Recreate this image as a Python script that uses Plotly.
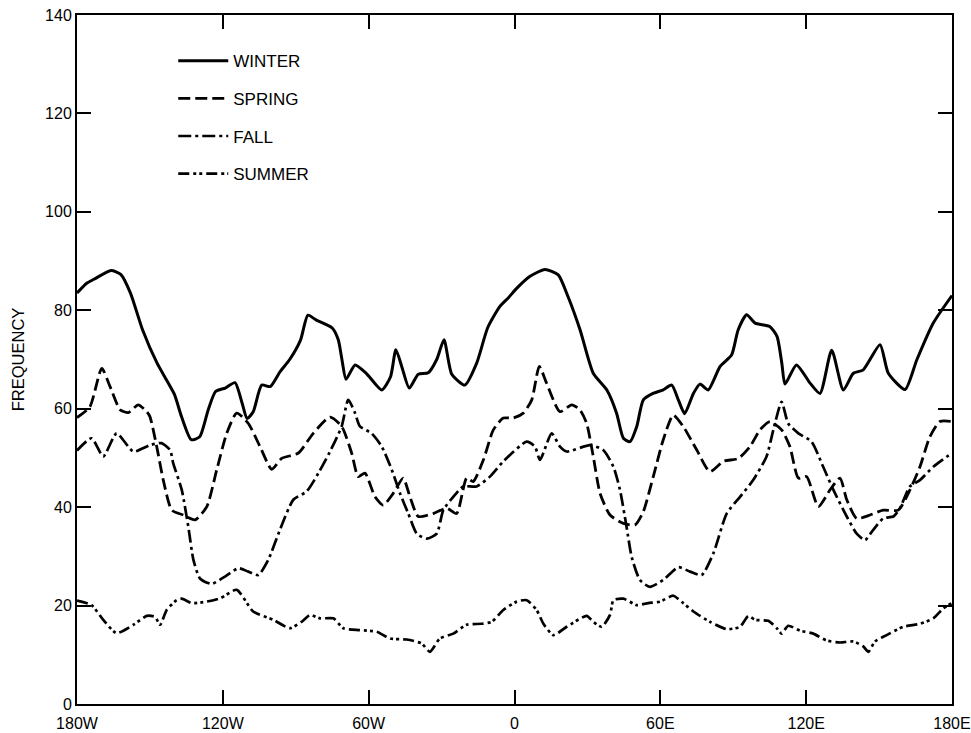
import plotly.graph_objects as go

# Longitude (degrees, west negative) and frequency for each season
winter_lon = [-180, -176, -173, -166, -162, -158, -153, -147, -140, -137, -133, -129.5, -126, -123,
              -119, -115, -112, -110, -107.5, -104, -100.5, -96.5, -92.5, -88, -85, -81.5, -75,
              -72.5, -71, -69.3, -65.6, -61, -54.6, -51, -48.8, -46.4, -43.3, -39.6, -35.5, -32,
              -29, -25.8, -20.4, -15.6, -11, -6, -2.6, 1, 6.4, 12.5, 18, 22, 27, 32.4, 38, 42,
              44.8, 47.5, 50.3, 53, 57, 61, 64.7, 67.4, 70, 73.6, 76.3, 79.7, 84.6, 89.3, 92, 95.5,
              99, 105, 108, 110, 111.3, 116, 121.6, 125.7, 130.5, 135.3, 139.4, 143.5, 150.4,
              153.8, 160.7, 165.5, 172.3, 180]
winter_freq = [83.5, 85.5, 86.3, 88.1, 87.3, 83.5, 76, 69.2, 63, 58.4, 53.7, 54.3, 59.8, 63.5,
               64.2, 65.3, 61, 58, 59.4, 64.8, 64.5, 67.5, 70, 74, 79, 78, 76.4,
               74, 70, 66, 68.9, 67.2, 63.8, 66.5, 72, 68.6, 64.2, 67, 67.3, 70,
               74, 67, 64.8, 69.2, 76.5, 80.8, 82.5, 84.5, 86.9, 88.3, 87.2, 82.8, 76, 67.2, 63.8, 59.1,
               54, 53.3, 56.4, 61.8, 63.1, 63.8, 64.8, 61.8, 59, 63.1, 65, 63.8, 68.6, 70.9, 76, 79.1,
               77.4, 76.7, 74.7, 69.2, 65, 68.9, 65.2, 63.1, 71.9, 63.8, 67.2, 67.9, 73,
               67.2, 63.9, 69.9, 77.4, 83]

spring_lon = [-180, -174.7, -169.8, -166.4, -162.3, -158.9, -154.8, -151.3, -150, -147.2, -144.5,
              -141, -136.3, -131.5, -126.6, -122.5, -118.4, -114.3, -109.5, -104.7, -99.9, -95.8,
              -88.9, -82.8, -75.9, -71.1, -67, -64.3, -61.5, -57.4, -54, -49.9, -45.8, -43, -39.6,
              -33.4, -27.9, -23.8, -19.7, -17, -12.8, -8.7, -4.6, -0.5, 3.6, 7.1, 10.2, 13.2, 18.7,
              23.5, 26.9, 29.7, 32.4, 35.2, 39.3, 44.8, 49.6, 53, 57.1, 61.2, 65.3, 69.4, 75, 80.4,
              85.9, 92.1, 96.9, 101, 105.1, 109.9, 113.3, 116.8, 120.2, 125, 129.8, 133.9, 136.7,
              140.8, 146.3, 151.7, 157.9, 162.7, 166.8, 170.9, 175, 180]
spring_freq = [58.2, 60.4, 68.2, 64.5, 59.8, 59.2, 60.8, 59.4, 58.4, 52.3, 45.5,
               39.4, 38.4, 37.4, 40.1, 47.6, 55, 59.1, 57, 52.3, 47.7, 49.9,
               51, 55, 58.3, 56.4, 51, 46.2, 46.9, 42.1, 40.4, 42.8, 45.9, 42.1, 38.1,
               38.7, 39.8, 38.7, 45.9, 45.2, 49.6, 55.7, 58.1, 58.1, 59.1, 61.8, 68.6, 65.2, 59.4,
               60.8, 59.8, 57, 50.3, 42.8, 38.4, 36.7, 36.4, 39.1, 46.2, 53.7, 58.7, 56.4, 51.6, 47.2,
               49.3, 49.9, 52.3, 55.7, 57.4, 55.7, 52.3, 45.9, 46.2, 40.1, 43.5, 45.9, 41.5,
               37.7, 38.4, 39.4, 39.4, 43.5, 48.2, 54.3, 57.4, 57.4]

fall_lon = [-180, -174, -169.2, -163.7, -156.8, -150, -145.2, -141.7, -140.4, -136.9, -134.2,
            -132.1, -129.4, -124.6, -119.1, -113.6, -109.5, -105.4, -101.3, -96.5, -91, -85.5,
            -80.7, -75.9, -71.1, -68.4, -65.6, -63.6, -58.8, -54.6, -50.5, -47.1, -43.7, -40.2,
            -36.1, -32, -29.3, -25.2, -21.1, -15.6, -10.1, -4.6, 5, 8.4, 10.5, 15.3, 18.7, 21.5,
            31.1, 36.5, 40.7, 43.4, 46.1, 48.2, 51.6, 55.7, 61.2, 67.4, 72.2, 77, 81.8, 87.3,
            92.8, 98.2, 103.7, 106.5, 109.9, 112.6, 116.8, 122.2, 127, 131.2, 136.7, 140.8,
            144.2, 147.6, 151.7, 155.9, 158.6, 162.7, 166.8, 172.3, 180]
fall_freq = [51.5, 54, 50.3, 55, 51.3, 52.6, 53, 51.6, 48.9, 43.5, 36,
             29.3, 25.5, 24.4, 25.9, 27.6, 26.9, 26.2, 29.3, 35.4, 41.5, 43.2,
             46.9, 51.3, 56.4, 61.8, 59.1, 56.4, 55, 52.3, 47.6, 42.8, 38.7, 34.6,
             33.6, 34.6, 39.4, 42.1, 44.2, 44.2, 46.2, 49.3, 53.3, 52.3, 49.6, 55, 52.3, 51.3,
             52.6, 51.6, 48.2, 43.5, 36, 29.9, 25.2, 23.8, 25.2, 27.8, 26.9, 26.2, 30.6, 38.7,
             42.1, 45.5, 50.3, 55.7, 61.4, 57, 55, 53.3, 48.2, 43.5, 38.1, 34.6,
             33.3, 35.4, 37.7, 38.1, 39.8, 44.2, 45.5, 48.2, 51]

summer_lon = [-180, -174, -169.2, -163.7, -156.8, -151.3, -147.9, -145.8, -143.1, -139, -136.9,
              -132.8, -126.7, -121, -114.3, -107.5, -99.2, -92.4, -87.6, -84.1, -80, -74.5, -70.4,
              -63.6, -56.7, -51.2, -44.4, -38.2, -34.8, -30.7, -25.2, -19.7, -13.5, -9.4, -4.6,
              0.9, 5, 9.1, 11.9, 16, 21.5, 29.7, 32.4, 35.9, 39.3, 40.7, 44.8, 50.3, 55, 59.9,
              65.3, 69.4, 73.6, 80.4, 87.3, 92.8, 96.2, 99, 104.4, 107.9, 109.9, 112.6, 117.5,
              122.9, 128.4, 133.9, 139.4, 143.5, 145.6, 148.3, 153.1, 160, 166.8, 172.3, 176.4, 180]
summer_freq = [21, 20.1, 17.1, 14.4, 16.1, 17.9, 17.7, 16.1, 19.1, 21.1, 21.4,
               20.5, 20.8, 21.5, 23.2, 18.8, 17.1, 15.4, 16.7, 18.1, 17.4, 17.4, 15.4,
               15, 14.7, 13.3, 13.1, 12.3, 10.6, 13.3, 14.3, 16.1, 16.3, 16.7, 19.1,
               20.8, 21.1, 19.1, 16.3, 14, 15.7, 17.9, 16.7, 15.7, 18.1, 21.1, 21.4, 20.1, 20.5, 20.8,
               22, 20.5, 18.8, 16.7, 15.2, 15.7, 17.9, 17.1, 16.9, 15.4, 14.3, 15.9, 14.9,
               14.3, 12.9, 12.5, 12.7, 11.7, 10.6, 12.7, 14, 15.7, 16.3, 17.4, 19.4, 20.5]

lon_ticks = [-180, -120, -60, 0, 60, 120, 180]
lon_labels = ["180W", "120W", "60W", "0", "60E", "120E", "180E"]
freq_ticks = [0, 20, 40, 60, 80, 100, 120, 140]

FONT = "Liberation Sans, Arial, Helvetica, sans-serif"

series = [
    ("WINTER", winter_lon, winter_freq, "solid", 3.0),
    ("SPRING", spring_lon, spring_freq, "12px,5px", 2.8),
    ("FALL", fall_lon, fall_freq, "13px,4px,3px,4px", 2.7),
    ("SUMMER", summer_lon, summer_freq, "11px,4px,3px,3px,3px,4px", 2.7),
]

fig = go.Figure()
for name, xs, ys, dash, width in series:
    fig.add_trace(go.Scatter(
        x=xs, y=ys, name=name, mode="lines", legendgroup=name,
        line=dict(color="black", width=width, dash=dash, shape="spline", smoothing=0.6),
    ))

axis_common = dict(
    showline=True, linewidth=2, linecolor="black", mirror="ticks",
    ticks="inside", ticklen=14, tickwidth=2, tickcolor="black",
    showgrid=False, zeroline=False,
    tickfont=dict(family=FONT, size=16, color="black"),
)

fig.update_xaxes(range=[-180, 180], tickvals=lon_ticks, ticktext=lon_labels,
                 automargin=False, ticklabelstandoff=4, **axis_common)
fig.update_yaxes(range=[0, 140], tickvals=freq_ticks, automargin=False,
                 title=dict(text="FREQUENCY", font=dict(family=FONT, size=16.5, color="black"),
                            standoff=16),
                 **axis_common)

fig.update_layout(
    width=971, height=733,
    margin=dict(l=77, r=19, t=15, b=29),
    paper_bgcolor="white", plot_bgcolor="white",
    showlegend=True,
    legend=dict(x=0.11, y=0.959, xanchor="left", yanchor="top",
                font=dict(family=FONT, size=17, color="black"),
                bgcolor="rgba(0,0,0,0)", borderwidth=0, itemwidth=50,
                traceorder="grouped", tracegroupgap=12.5),
)

fig.write_html("out.html")
